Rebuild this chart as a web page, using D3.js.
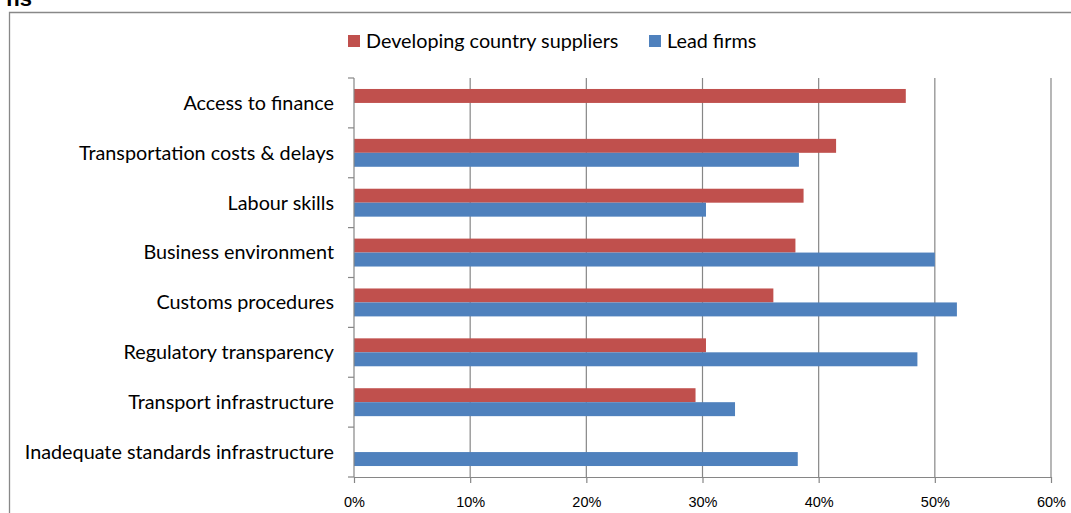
<!DOCTYPE html>
<html>
<head>
<meta charset="utf-8">
<script src="https://cdn.jsdelivr.net/npm/d3@7"></script>
<style>
  body { margin: 0; background: #fff; }
  svg { display: block; font-family: Lato, "Open Sans", sans-serif; }
</style>
</head>
<body>
<div id="chart"></div>
<script>
const categories = [
    "Access to finance",
    "Transportation costs & delays",
    "Labour skills",
    "Business environment",
    "Customs procedures",
    "Regulatory transparency",
    "Transport infrastructure",
    "Inadequate standards infrastructure"
];
const seriesNames = ["Developing country suppliers", "Lead firms"];
const suppliers = [47.5, 41.5, 38.7, 38.0, 36.1, 30.3, 29.4, null];
const leadFirms = [null, 38.3, 30.3, 50.0, 51.9, 48.5, 32.8, 38.2];
const xTicks = [0, 10, 20, 30, 40, 50, 60];
const colors = ["#C0504D", "#4F81BD"];

const W = 1071, H = 513;
const plot = { left: 354, right: 1051, top: 78, bottom: 477 };
const labelSize = 19.8, tickSize = 14.5;

const svg = d3.select("#chart").append("svg")
    .attr("width", W).attr("height", H);

// ──── Scales ────
const x = d3.scaleLinear().domain([0, 60]).range([plot.left, plot.right]);
const y = d3.scaleBand().domain(categories).range([plot.top, plot.bottom])
    .paddingInner(0.44).paddingOuter(0.22);
const ySub = d3.scaleBand().domain(seriesNames).range([0, y.bandwidth()]);

// outer frame (cut by the window)
svg.append("path")
    .attr("d", `M9.5,${H} V12.5 H${W}`)
    .attr("fill", "none").attr("stroke", "#888").attr("stroke-width", 1.3);

// cropped title fragment
svg.append("text")
    .attr("x", 32).attr("y", 6).attr("text-anchor", "end")
    .attr("font-weight", "bold").attr("font-size", 22)
    .attr("font-family", "'Liberation Sans', Arial, sans-serif")
    .text("ns");

// Grid lines
svg.append("g")
    .selectAll("line")
    .data(xTicks.slice(1))
    .join("line")
    .attr("x1", d => x(d)).attr("x2", d => x(d))
    .attr("y1", plot.top).attr("y2", plot.bottom)
    .attr("stroke", "#868686").attr("stroke-width", 1.2);

// Bars
const rows = categories.map((c, i) => ({ cat: c, values: [suppliers[i], leadFirms[i]] }));
const groups = svg.append("g").selectAll("g")
    .data(rows)
    .join("g")
    .attr("transform", d => `translate(0,${y(d.cat)})`);

groups.selectAll("rect")
    .data(d => d.values.map((v, k) => ({ v, k })).filter(e => e.v != null))
    .join("rect")
    .attr("x", x(0))
    .attr("y", d => ySub(seriesNames[d.k]))
    .attr("width", d => x(d.v) - x(0))
    .attr("height", ySub.bandwidth())
    .attr("fill", d => colors[d.k]);

// X axis
const xAxis = svg.append("g")
    .attr("transform", `translate(0,${plot.bottom})`)
    .call(d3.axisBottom(x).tickValues(xTicks).tickSize(6).tickPadding(14)
        .tickFormat(d => d + "%"));
xAxis.selectAll("line, path").attr("stroke", "#868686").attr("stroke-width", 1.2);
xAxis.select(".domain").attr("d", `M${plot.left},0.5H${plot.right}`);
xAxis.selectAll("text")
    .attr("font-size", tickSize).attr("font-family", null)
    .attr("fill", "#000").attr("dy", "0.71em");

// Y axis: line with ticks on band boundaries
const yAxis = svg.append("g");
yAxis.append("line")
    .attr("x1", plot.left).attr("x2", plot.left)
    .attr("y1", plot.top).attr("y2", plot.bottom)
    .attr("stroke", "#868686").attr("stroke-width", 1.2);
const bounds = categories.map(c => y(c) - y.step() * y.paddingInner() / 2)
    .concat([plot.bottom]);
yAxis.selectAll(".tick")
    .data(bounds)
    .join("line")
    .attr("x1", plot.left - 6).attr("x2", plot.left)
    .attr("y1", d => d).attr("y2", d => d)
    .attr("stroke", "#868686").attr("stroke-width", 1.2);
yAxis.selectAll("text")
    .data(categories)
    .join("text")
    .attr("x", 334)
    .attr("y", d => y(d) + y.bandwidth() / 2)
    .attr("dy", "0.35em")
    .attr("text-anchor", "end")
    .attr("font-size", labelSize)
    .text(d => d);

// Legend
const legend = svg.append("g").selectAll("g")
    .data(seriesNames)
    .join("g")
    .attr("transform", (d, i) => `translate(${i === 0 ? 348 : 649},35)`);
legend.append("rect").attr("width", 12).attr("height", 12)
    .attr("fill", (d, i) => colors[i]);
legend.append("text").attr("x", 18).attr("y", 6).attr("dy", "0.35em")
    .attr("font-size", labelSize).text(d => d);
</script>
</body>
</html>
